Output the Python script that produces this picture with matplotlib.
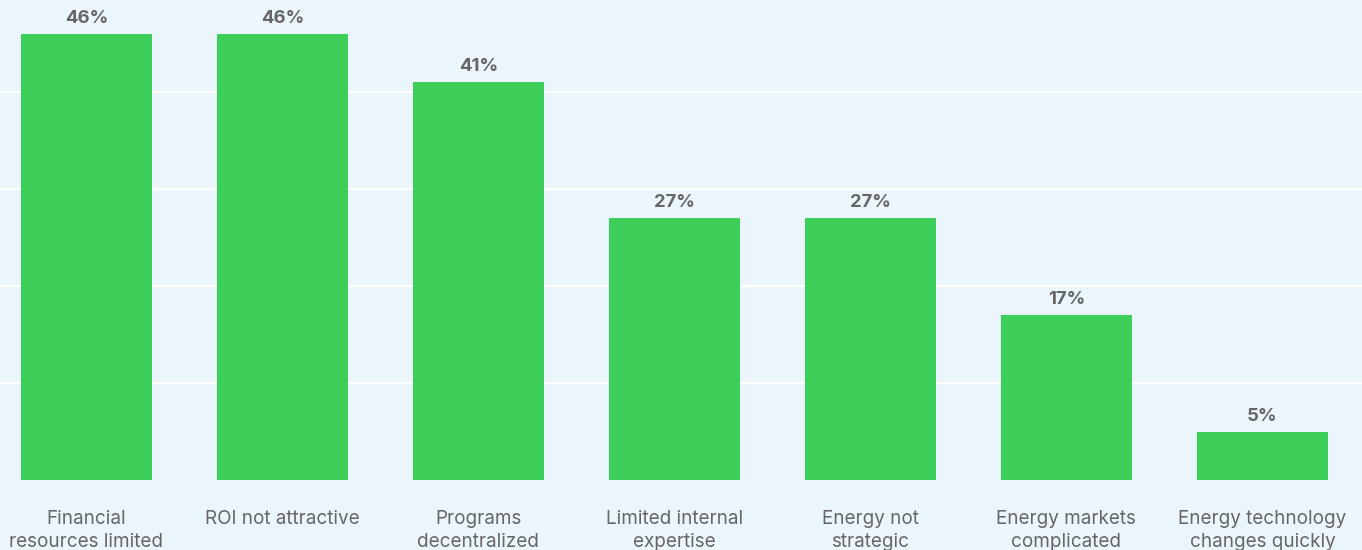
import matplotlib
matplotlib.use("Agg")
import matplotlib.pyplot as plt
import numpy as np

plt.rcParams['font.family'] = ['Inter', 'DejaVu Sans']

# data
categories = ["Financial\nresources limited", "ROI not attractive", "Programs\ndecentralized",
              "Limited internal\nexpertise", "Energy not\nstrategic", "Energy markets\ncomplicated",
              "Energy technology\nchanges quickly"]
values = [46, 46, 41, 27, 27, 17, 5]

bg = "#ebf6fc"
green = "#3ecf5b"
grey = "#666666"

fig = plt.figure(figsize=(13.62, 5.5), dpi=100)
fig.patch.set_facecolor(bg)
ax = fig.add_axes([0, 70 / 550, 1, 480 / 550])
ax.set_facecolor(bg)

x = np.arange(len(values))
bars = ax.bar(x, values, width=0.67, color=green, zorder=3)

for b, v in zip(bars, values):
    ax.annotate(f"{v}%", (b.get_x() + b.get_width() / 2, v), xytext=(0, 5),
                textcoords="offset points", ha="center", va="bottom",
                fontsize=13.3, fontweight="bold", color=grey)

ax.set_xlim(-0.441, 6.508)
ax.set_ylim(0, 49.5)
ax.set_yticks([10, 20, 30, 40])
ax.yaxis.grid(True, color="white", linewidth=1.5, zorder=0)
ax.set_yticklabels([])
ax.tick_params(axis="y", length=0)
ax.set_xticks(x)
ax.set_xticklabels(categories, fontsize=13.6, color=grey, linespacing=1.37)
ax.tick_params(axis="x", length=0, pad=21.5)
for s in ax.spines.values():
    s.set_visible(False)

fig.savefig("out.png", dpi=100, facecolor=bg)
